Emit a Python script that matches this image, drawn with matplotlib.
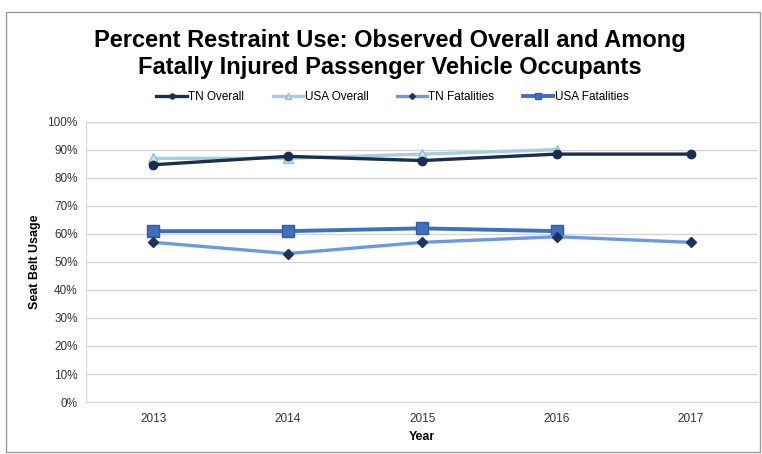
import matplotlib.pyplot as plt
from matplotlib.patches import Rectangle
from matplotlib.ticker import PercentFormatter

plt.rcParams['font.family'] = ['Liberation Sans', 'DejaVu Sans']

years = ['2013', '2014', '2015', '2016', '2017']
tn_overall = [84.7, 87.7, 86.2, 88.5, 88.5]
usa_overall = [87.0, 87.0, 88.5, 90.1]
tn_fatalities = [57.0, 53.0, 57.0, 59.0, 57.0]
usa_fatalities = [61.0, 61.0, 62.0, 61.0]

fig = plt.figure(figsize=(7.62, 4.54), dpi=100)
ax = fig.add_axes([0.113, 0.1145, 0.882, 0.617])

x = list(range(len(years)))
ax.plot(x, tn_overall, color='#1C2E4F', lw=2.4, marker='o', ms=6,
        label='TN Overall', zorder=4)
ax.plot(x[:len(usa_overall)], usa_overall, color='#A5CFE0', lw=2.4,
        marker='^', ms=7, mfc='#C9E3EE', mec='#8FBFD3', label='USA Overall',
        zorder=3)
ax.plot(x, tn_fatalities, color='#6A9BE0', lw=2.4, marker='D', ms=5,
        mfc='#1F3160', mec='#1F3160', label='TN Fatalities', zorder=4)
ax.plot(x[:len(usa_fatalities)], usa_fatalities, color='#3E6FC0', lw=2.8,
        marker='s', ms=8, mfc='#3E6FC0', mec='#2F5BA8', label='USA Fatalities',
        zorder=3)

ax.set_xlim(-0.5, len(years) - 0.5)
ax.set_ylim(0, 100)
ax.set_yticks(range(0, 101, 10))
ax.yaxis.set_major_formatter(PercentFormatter(decimals=0))
ax.set_xticks(x)
ax.set_xticklabels(years)
ax.tick_params(length=0, labelsize=8.5, colors='#333333')
ax.tick_params(axis='x', pad=8)
ax.tick_params(axis='y', pad=6)
ax.grid(axis='y', color='#D6D6D6', lw=1)
ax.set_axisbelow(True)
for s in ax.spines.values():
    s.set_color('#D6D6D6')
ax.spines['right'].set_visible(False)

ax.set_xlabel('Year', fontsize=9, fontweight='bold', labelpad=4)
ax.set_ylabel('Seat Belt Usage', fontsize=9, fontweight='bold', labelpad=5)

fig.text(0.512, 0.881, 'Percent Restraint Use: Observed Overall and Among\n'
         'Fatally Injured Passenger Vehicle Occupants',
         ha='center', va='center', fontsize=17, fontweight='bold',
         linespacing=1.25)

fig.legend(loc='center', bbox_to_anchor=(0.515, 0.787), ncol=4,
           frameon=False, fontsize=8.5, handlelength=2.6, handletextpad=0.1,
           columnspacing=2.4, markerscale=0.6)

# outer chart frame
fig.patches.append(Rectangle((0.008, 0.004), 0.99, 0.97,
                             transform=fig.transFigure, fill=False,
                             ec='#9A9A9A', lw=1))

fig.savefig('out.png', dpi=100)
